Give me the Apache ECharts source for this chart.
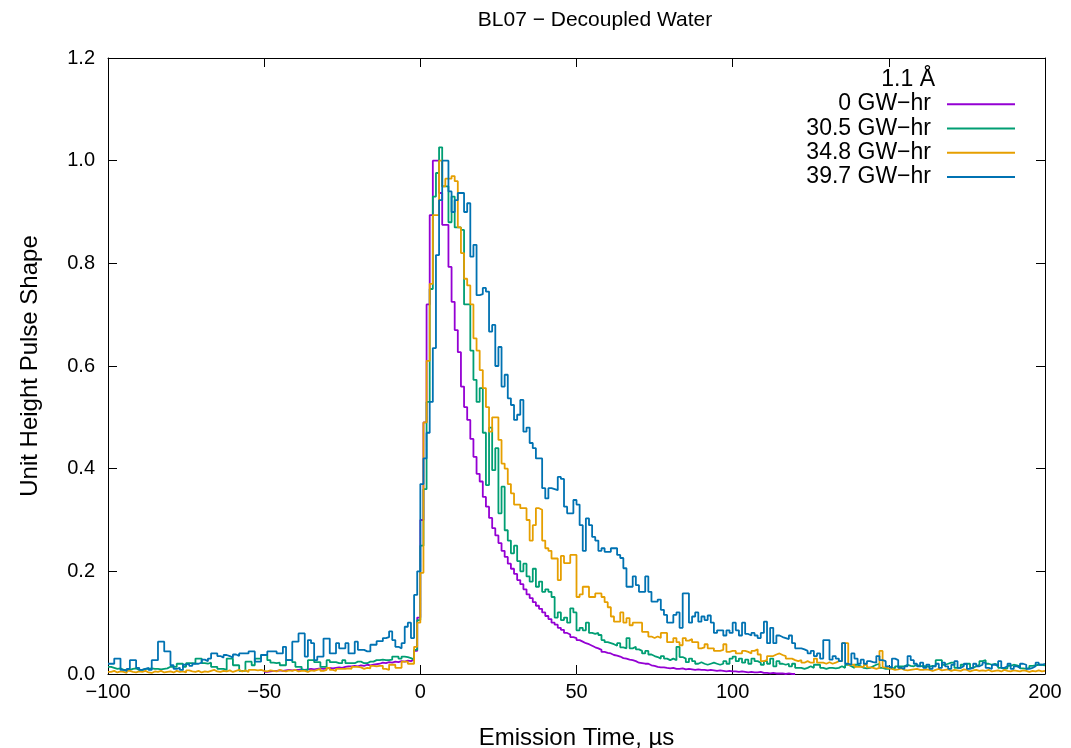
<!DOCTYPE html>
<html>
<head>
<meta charset="utf-8">
<script src="https://cdn.jsdelivr.net/npm/echarts@6/dist/echarts.min.js"></script>
<style>
html,body{margin:0;padding:0;background:#fff;}
#chart{width:1071px;height:748px;}
</style>
</head>
<body>
<div id="chart"></div>
<script>
// ---- data (bin start time in µs, one value per 1 µs bin) ----
const legendTitle = '1.1 Å';
const seriesNames = ['0 GW\u2212hr', '30.5 GW\u2212hr', '34.8 GW\u2212hr', '39.7 GW\u2212hr'];
const seriesColors = ['#9400d3', '#009e73', '#e69f00', '#0072b2'];

const startPurple = -50;
const purple = [
0.004,0.005,0.006,0.006,0.007,0.006,0.007,0.008,0.007,0.008,
0.008,0.009,0.008,0.009,0.010,0.009,0.010,0.011,0.010,0.011,
0.012,0.011,0.012,0.013,0.012,0.014,0.015,0.015,0.016,0.015,
0.017,0.016,0.018,0.017,0.018,0.019,0.020,0.022,0.021,0.023,
0.022,0.024,0.023,0.025,0.024,0.026,0.025,0.028,0.045,0.110,
0.300,0.490,0.720,0.894,1.000,1.000,0.937,0.875,0.875,0.793,
0.725,0.670,0.627,0.560,0.520,0.495,0.458,0.423,0.390,0.375,
0.345,0.326,0.304,0.284,0.270,0.255,0.240,0.228,0.215,0.205,
0.195,0.183,0.175,0.165,0.155,0.148,0.140,0.133,0.127,0.120,
0.113,0.107,0.100,0.096,0.090,0.086,0.080,0.077,0.072,0.070,
0.066,0.063,0.060,0.058,0.055,0.052,0.050,0.047,0.043,0.041,
0.040,0.037,0.036,0.034,0.031,0.030,0.028,0.027,0.025,0.022,
0.021,0.020,0.020,0.017,0.016,0.014,0.013,0.013,0.012,0.011,
0.012,0.010,0.010,0.011,0.009,0.010,0.009,0.008,0.009,0.008,
0.008,0.007,0.008,0.007,0.006,0.007,0.006,0.005,0.006,0.005,
0.005,0.004,0.005,0.004,0.003,0.004,0.003,0.003,0.004,0.002,
0.002,0.001,0.002,0.001,0.001,0.001,0.000,0.001,0.000,0.000
];

const startGreen = -100;
const green = [
0.014,0.012,0.010,0.011,0.008,0.008,0.008,0.010,0.011,0.008,
0.008,0.010,0.010,0.011,0.010,0.010,0.009,0.010,0.011,0.014,
0.014,0.014,0.020,0.020,0.014,0.021,0.021,0.020,0.030,0.030,
0.021,0.020,0.022,0.014,0.014,0.010,0.010,0.008,0.030,0.030,
0.017,0.017,0.006,0.006,0.024,0.024,0.017,0.030,0.030,0.037,
0.037,0.027,0.022,0.021,0.022,0.017,0.017,0.027,0.027,0.023,
0.014,0.014,0.008,0.008,0.027,0.027,0.023,0.023,0.014,0.014,
0.027,0.023,0.023,0.021,0.021,0.027,0.021,0.021,0.021,0.024,
0.024,0.021,0.021,0.024,0.024,0.027,0.027,0.028,0.027,0.027,
0.028,0.034,0.034,0.030,0.034,0.033,0.031,0.028,0.047,0.105,
0.250,0.360,0.530,0.750,0.930,0.976,1.026,0.950,0.950,0.880,
0.930,0.870,0.870,0.865,0.720,0.720,0.630,0.573,0.530,0.557,
0.470,0.368,0.480,0.397,0.440,0.313,0.365,0.280,0.260,0.235,
0.250,0.220,0.200,0.215,0.190,0.180,0.205,0.170,0.180,0.160,
0.165,0.160,0.150,0.110,0.120,0.105,0.110,0.100,0.128,0.120,
0.085,0.090,0.085,0.100,0.080,0.078,0.080,0.076,0.066,0.062,
0.060,0.058,0.055,0.060,0.052,0.050,0.070,0.050,0.053,0.048,
0.045,0.040,0.045,0.038,0.035,0.033,0.030,0.035,0.030,0.027,
0.030,0.027,0.053,0.033,0.030,0.023,0.030,0.025,0.020,0.023,
0.020,0.018,0.020,0.022,0.020,0.018,0.020,0.025,0.020,0.030,
0.034,0.025,0.030,0.022,0.028,0.020,0.030,0.025,0.022,0.018,
0.025,0.020,0.030,0.015,0.025,0.020,0.018,0.020,0.015,0.020,
0.012,0.012,0.010,0.012,0.015,0.012,0.018,0.018,0.012,0.010,
0.012,0.012,0.011,0.012,0.015,0.012,0.018,0.015,0.012,0.018,
0.015,0.012,0.011,0.012,0.015,0.018,0.020,0.012,0.010,0.010,
0.012,0.011,0.015,0.015,0.015,0.018,0.016,0.015,0.018,0.015,
0.016,0.015,0.014,0.016,0.015,0.027,0.027,0.018,0.020,0.022,
0.022,0.012,0.012,0.018,0.020,0.020,0.012,0.015,0.018,0.025,
0.027,0.020,0.018,0.020,0.018,0.012,0.010,0.011,0.016,0.018,
0.017,0.015,0.011,0.010,0.012,0.016,0.017,0.018,0.018,0.017
];

const startOrange = -100;
const orange = [
0.004,0.006,0.003,0.005,0.004,0.002,0.006,0.004,0.003,0.005,
0.004,0.006,0.003,0.002,0.005,0.004,0.006,0.003,0.004,0.005,
0.003,0.006,0.004,0.005,0.003,0.007,0.005,0.004,0.006,0.003,
0.005,0.004,0.006,0.008,0.005,0.004,0.006,0.005,0.007,0.004,
0.006,0.008,0.005,0.007,0.004,0.008,0.008,0.007,0.008,0.006,
0.005,0.007,0.006,0.005,0.008,0.006,0.005,0.007,0.006,0.008,
0.005,0.006,0.006,0.004,0.007,0.006,0.008,0.010,0.006,0.008,
0.012,0.008,0.006,0.010,0.010,0.010,0.011,0.010,0.014,0.014,
0.013,0.010,0.012,0.011,0.016,0.015,0.016,0.016,0.010,0.008,
0.018,0.018,0.012,0.012,0.024,0.024,0.020,0.020,0.053,0.100,
0.197,0.490,0.610,0.760,0.894,0.894,1.000,0.950,0.965,0.965,
0.970,0.960,0.870,0.820,0.770,0.757,0.720,0.654,0.630,0.592,
0.557,0.520,0.472,0.500,0.500,0.456,0.410,0.400,0.370,0.352,
0.330,0.330,0.323,0.323,0.300,0.260,0.290,0.323,0.320,0.260,
0.245,0.240,0.225,0.225,0.183,0.230,0.216,0.216,0.232,0.232,
0.150,0.155,0.170,0.170,0.150,0.150,0.157,0.157,0.150,0.140,
0.130,0.112,0.102,0.102,0.120,0.100,0.109,0.095,0.100,0.100,
0.100,0.082,0.082,0.073,0.070,0.073,0.070,0.080,0.080,0.062,
0.062,0.070,0.062,0.056,0.070,0.065,0.068,0.062,0.062,0.050,
0.052,0.058,0.050,0.050,0.045,0.045,0.047,0.058,0.043,0.045,
0.045,0.040,0.040,0.045,0.043,0.040,0.045,0.048,0.038,0.025,
0.027,0.035,0.035,0.038,0.040,0.037,0.035,0.030,0.030,0.027,
0.025,0.027,0.022,0.025,0.022,0.022,0.030,0.022,0.022,0.020,
0.023,0.020,0.022,0.025,0.025,0.060,0.060,0.018,0.018,0.014,
0.014,0.014,0.018,0.013,0.012,0.010,0.012,0.045,0.013,0.011,
0.010,0.008,0.009,0.011,0.008,0.007,0.008,0.009,0.010,0.008,
0.008,0.009,0.008,0.006,0.008,0.010,0.007,0.008,0.009,0.006,
0.008,0.007,0.006,0.009,0.008,0.005,0.007,0.008,0.006,0.007,
0.006,0.008,0.005,0.006,0.007,0.005,0.008,0.006,0.005,0.007,
0.006,0.005,0.007,0.006,0.004,0.006,0.005,0.007,0.005,0.006
];

const startBlue = -100;
const blue = [
0.020,0.020,0.030,0.030,0.008,0.006,0.010,0.027,0.027,0.012,
0.008,0.010,0.012,0.008,0.027,0.027,0.063,0.063,0.044,0.044,
0.017,0.010,0.012,0.008,0.018,0.020,0.016,0.020,0.020,0.022,
0.028,0.025,0.030,0.040,0.040,0.035,0.032,0.037,0.035,0.032,
0.038,0.035,0.040,0.040,0.040,0.044,0.044,0.024,0.024,0.037,
0.037,0.044,0.044,0.044,0.040,0.040,0.053,0.027,0.027,0.063,
0.063,0.079,0.079,0.034,0.066,0.060,0.027,0.034,0.034,0.069,
0.069,0.040,0.040,0.060,0.050,0.050,0.060,0.040,0.040,0.063,
0.047,0.047,0.044,0.044,0.057,0.057,0.064,0.064,0.070,0.072,
0.083,0.066,0.053,0.050,0.060,0.092,0.100,0.070,0.154,0.200,
0.370,0.420,0.470,0.530,0.635,0.816,0.923,1.000,1.000,0.940,
0.900,0.923,0.937,0.937,0.900,0.917,0.813,0.836,0.738,0.740,
0.752,0.745,0.667,0.680,0.600,0.637,0.560,0.583,0.537,0.524,
0.495,0.505,0.534,0.472,0.480,0.450,0.440,0.420,0.420,0.362,
0.342,0.362,0.360,0.358,0.384,0.380,0.326,0.313,0.313,0.339,
0.330,0.290,0.240,0.303,0.290,0.267,0.260,0.240,0.245,0.238,
0.238,0.245,0.245,0.232,0.226,0.206,0.170,0.170,0.190,0.173,
0.160,0.160,0.190,0.160,0.141,0.141,0.145,0.125,0.115,0.100,
0.100,0.115,0.120,0.090,0.157,0.157,0.100,0.112,0.120,0.102,
0.112,0.105,0.114,0.100,0.080,0.085,0.085,0.075,0.085,0.080,
0.100,0.085,0.075,0.100,0.078,0.075,0.080,0.075,0.070,0.080,
0.102,0.060,0.090,0.060,0.075,0.072,0.070,0.068,0.075,0.060,
0.050,0.050,0.048,0.045,0.040,0.045,0.035,0.040,0.030,0.066,
0.066,0.028,0.035,0.030,0.025,0.060,0.020,0.018,0.040,0.030,
0.020,0.028,0.020,0.025,0.023,0.022,0.035,0.027,0.025,0.015,
0.012,0.030,0.027,0.012,0.010,0.015,0.035,0.027,0.020,0.015,
0.022,0.012,0.018,0.010,0.015,0.020,0.012,0.022,0.015,0.010,
0.018,0.025,0.012,0.015,0.020,0.010,0.012,0.020,0.015,0.018,
0.022,0.012,0.010,0.018,0.015,0.025,0.012,0.015,0.020,0.010,
0.015,0.012,0.020,0.018,0.010,0.012,0.015,0.022,0.018,0.020
];

const xTicks = {min: -100, max: 200, step: 50};
const yTicks = {min: 0, max: 1.2, step: 0.2};

// ---- chart ----
function toPairs(start, vals) {
  const pts = vals.map((v, i) => [start + i, v]);
  pts.push([start + vals.length, vals[vals.length - 1]]);
  return pts;
}
const seriesData = [
  toPairs(startPurple, purple),
  toPairs(startGreen, green),
  toPairs(startOrange, orange),
  toPairs(startBlue, blue)
];

const FONT = 'Liberation Sans, Arial, Helvetica, sans-serif';
const minus = v => (v < 0 ? '\u2212' + Math.abs(v) : String(v));

const baseAxisLine = {show: true, onZero: false, lineStyle: {color: '#000', width: 1}};
const baseTick = {show: true, inside: true, length: 9, lineStyle: {color: '#000', width: 1}};

const chart = echarts.init(document.getElementById('chart'), null, {renderer: 'canvas'});
chart.setOption({
  animation: false,
  backgroundColor: '#fff',
  textStyle: {fontFamily: FONT},
  grid: {left: 108, right: 26, top: 58, bottom: 74, containLabel: false, outerBoundsMode: 'none'},
  graphic: [
    {type: 'text', x: 595, y: 20,
     style: {text: 'BL07 \u2212 Decoupled Water', textAlign: 'center', textVerticalAlign: 'middle',
             font: '21px ' + FONT, fill: '#000'}},
    {type: 'text', x: 935, y: 80,
     style: {text: legendTitle, textAlign: 'right', textVerticalAlign: 'middle', font: '23px ' + FONT, fill: '#000'}}
  ],
  legend: {
    orient: 'vertical',
    right: 56,
    top: 92,
    padding: 0,
    align: 'right',
    itemWidth: 68,
    itemHeight: 2,
    itemGap: 0,
    icon: 'rect',
    textStyle: {fontSize: 23, color: '#000', fontFamily: FONT, lineHeight: 24.3, padding: [0, 11, 0, 0]},
    data: seriesNames
  },
  xAxis: [
    {type: 'value', position: 'bottom', min: xTicks.min, max: xTicks.max, interval: xTicks.step,
     axisLine: baseAxisLine, axisTick: baseTick, splitLine: {show: false},
     axisLabel: {formatter: minus, fontSize: 20, color: '#000', margin: 8, fontFamily: FONT},
     name: 'Emission Time, \u00b5s', nameLocation: 'middle', nameGap: 52,
     nameTextStyle: {fontSize: 24, color: '#000', fontFamily: FONT}},
    {type: 'value', position: 'top', min: xTicks.min, max: xTicks.max, interval: xTicks.step,
     axisLine: baseAxisLine, axisTick: baseTick, splitLine: {show: false}, axisLabel: {show: false}}
  ],
  yAxis: [
    {type: 'value', position: 'left', min: yTicks.min, max: yTicks.max, interval: yTicks.step,
     axisLine: baseAxisLine, axisTick: baseTick, splitLine: {show: false},
     axisLabel: {formatter: v => v.toFixed(1), fontSize: 20, color: '#000', margin: 13, fontFamily: FONT},
     name: 'Unit Height Pulse Shape', nameLocation: 'middle', nameGap: 66,
     nameTextStyle: {fontSize: 24, color: '#000', fontFamily: FONT}},
    {type: 'value', position: 'right', min: yTicks.min, max: yTicks.max, interval: yTicks.step,
     axisLine: baseAxisLine, axisTick: baseTick, splitLine: {show: false}, axisLabel: {show: false}}
  ],
  series: seriesNames.map((name, i) => ({
    name: name,
    type: 'line',
    step: 'end',
    xAxisIndex: 0,
    yAxisIndex: 0,
    showSymbol: false,
    symbol: 'none',
    color: seriesColors[i],
    lineStyle: {color: seriesColors[i], width: 1.8},
    data: seriesData[i],
    z: 2 + i
  }))
});
</script>
</body>
</html>
